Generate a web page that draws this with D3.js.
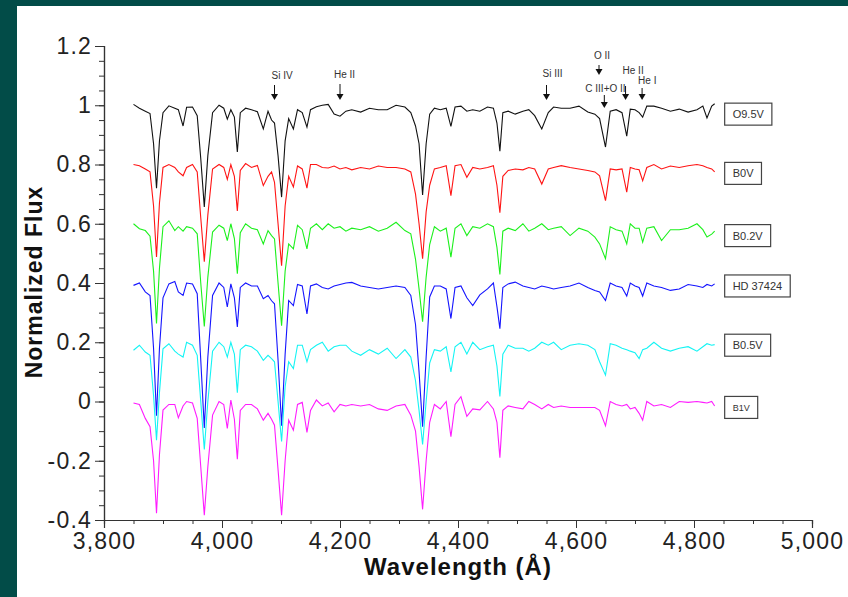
<!DOCTYPE html>
<html lang="en">
<head>
<meta charset="utf-8">
<script src="https://d3js.org/d3.v7.min.js"></script>
<title>spectra</title>
<style>
    body {margin: 0; background: #024c48;}
    svg {display: block;}
    text {font-family: "Liberation Sans", Arial, sans-serif;}
    .tick text {font-size: 23px; fill: #222; letter-spacing: 1.2px;}
    .axis path, .axis line {stroke: #333;}
    .title {font-weight: bold; fill: #111; letter-spacing: 1px;}
    .note {font-size: 10px; fill: #333;}
    .spec {fill: none; stroke-width: 1.1;}
</style>
</head>
<body>
<svg width="848" height="597"></svg>
<script>
    // wavelength grid shared by all spectra (Angstrom)
    var waves = [3850, 3860, 3870, 3878, 3884, 3889, 3894, 3900, 3910, 3920,
        3926, 3934, 3940, 3950, 3958, 3964, 3970, 3976, 3984, 3995,
        4003, 4009, 4015, 4021, 4026, 4031, 4040, 4050, 4060, 4070,
        4078, 4084, 4089, 4095, 4101, 4107, 4113, 4121, 4128, 4136,
        4144, 4150, 4160, 4170, 4180, 4190, 4200, 4210, 4220, 4235,
        4250, 4265, 4280, 4295, 4310, 4320, 4328, 4334, 4340, 4346,
        4352, 4360, 4370, 4380, 4388, 4395, 4405, 4415, 4425, 4437,
        4450, 4460, 4466, 4471, 4476, 4485, 4497, 4510, 4520, 4530,
        4542, 4553, 4562, 4575, 4590, 4605, 4620, 4632, 4640, 4650,
        4658, 4668, 4678, 4686, 4692, 4700, 4707, 4713, 4720, 4732,
        4745, 4760, 4775, 4790, 4805, 4815, 4822, 4830, 4835];

    // normalized flux of each star, before the vertical shift
    var o95v = [1.003, 0.99, 0.98, 0.972, 0.87, 0.72, 0.88, 0.975, 0.998, 0.99,
        0.985, 0.93, 0.993, 0.994, 0.965, 0.82, 0.657, 0.83, 0.975, 1.0,
        0.99, 0.953, 0.985, 0.96, 0.842, 0.975, 0.99, 0.985, 0.978, 0.92,
        0.98, 0.95, 0.94, 0.83, 0.69, 0.88, 0.955, 0.92, 0.985, 0.975,
        0.926, 0.985, 0.995, 1.0, 1.003, 0.97, 0.963, 0.98, 0.985, 0.977,
        0.99, 0.985, 0.985, 1.0, 0.994, 0.975, 0.93, 0.87, 0.697, 0.87,
        0.97, 0.99, 0.985, 0.99, 0.929, 0.994, 0.997, 0.98, 0.985, 0.98,
        0.994, 0.99, 0.94, 0.845, 0.975, 0.98, 0.97, 0.98, 0.985, 0.965,
        0.92, 0.975, 0.994, 0.99, 0.99, 0.997, 0.977, 0.97, 0.955, 0.859,
        0.98, 0.985, 0.975, 0.896, 0.987, 0.985, 0.975, 0.96, 0.997, 0.997,
        0.99, 0.98, 0.987, 0.977, 0.985, 0.997, 0.957, 0.997, 1.005];
    var b0v = [1.0, 0.996, 0.985, 0.975, 0.86, 0.688, 0.87, 0.99, 1.0, 0.99,
        0.975, 0.962, 0.99, 1.0, 0.975, 0.82, 0.672, 0.83, 0.985, 1.0,
        0.99, 0.95, 1.0, 0.96, 0.843, 0.98, 1.003, 0.99, 0.997, 0.929,
        0.96, 0.975, 0.94, 0.80, 0.658, 0.86, 0.96, 0.924, 0.995, 0.985,
        0.92, 1.0, 1.0, 0.99, 0.988, 0.995, 0.985, 0.99, 0.982, 0.99,
        0.985, 0.995, 0.99, 0.99, 0.985, 0.975, 0.90, 0.80, 0.682, 0.84,
        0.93, 0.985, 0.99, 0.996, 0.895, 0.996, 1.0, 0.957, 0.99, 0.985,
        0.99, 0.996, 0.93, 0.837, 0.96, 0.98, 0.985, 0.982, 0.99, 0.985,
        0.934, 0.985, 0.99, 0.996, 0.99, 0.985, 0.98, 0.975, 0.962, 0.878,
        0.985, 0.982, 0.985, 0.907, 0.99, 0.985, 0.982, 0.945, 0.99, 1.0,
        0.985, 0.995, 0.99, 0.996, 1.0, 0.996, 0.99, 0.985, 0.975];
    var b02v = [1.0, 0.983, 0.977, 0.958, 0.84, 0.663, 0.85, 0.99, 1.01, 0.977,
        0.99, 0.975, 0.99, 0.985, 0.966, 0.80, 0.653, 0.82, 0.972, 0.995,
        0.985, 0.943, 1.0, 0.95, 0.831, 0.97, 1.0, 0.985, 0.98, 0.932,
        0.977, 0.96, 0.949, 0.80, 0.656, 0.84, 0.932, 0.915, 0.995, 0.98,
        0.915, 0.985, 1.0, 0.98, 1.0, 0.985, 0.99, 0.975, 0.985, 0.98,
        0.99, 0.975, 0.985, 1.005, 0.977, 0.966, 0.88, 0.78, 0.669, 0.82,
        0.93, 0.99, 0.975, 0.985, 0.887, 0.985, 1.0, 0.96, 0.99, 0.985,
        1.0, 0.99, 0.92, 0.829, 0.975, 0.985, 0.977, 1.0, 0.975, 0.985,
        1.0, 0.98, 0.985, 0.99, 0.96, 0.985, 0.975, 0.955, 0.932, 0.882,
        0.99, 0.98, 0.975, 0.932, 1.0, 0.985, 0.985, 0.938, 0.985, 0.99,
        0.943, 0.98, 0.98, 0.985, 1.0, 0.98, 0.955, 0.965, 0.975];
    var hd37424 = [0.992, 1.0, 0.97, 0.958, 0.78, 0.552, 0.78, 0.95, 0.997, 1.005,
        0.97, 0.958, 1.0, 0.997, 0.964, 0.74, 0.511, 0.75, 0.958, 1.0,
        0.985, 0.919, 0.997, 0.95, 0.852, 0.985, 1.0, 0.99, 0.99, 0.947,
        0.958, 0.94, 0.93, 0.74, 0.518, 0.76, 0.941, 0.924, 0.995, 0.99,
        0.896, 0.99, 0.997, 0.985, 0.98, 0.99, 0.995, 1.0, 1.002, 0.99,
        0.985, 0.98, 0.985, 0.99, 0.985, 0.958, 0.86, 0.70, 0.515, 0.75,
        0.953, 0.99, 0.99, 0.98, 0.88, 0.985, 0.99, 0.95, 0.924, 0.96,
        0.98, 1.0, 0.92, 0.846, 0.985, 0.997, 1.003, 0.99, 0.985, 0.98,
        0.99, 0.985, 0.98, 0.985, 0.99, 1.0, 0.985, 0.975, 0.97, 0.941,
        1.0, 0.99, 0.985, 0.956, 1.0, 0.99, 0.985, 0.956, 1.0, 0.99,
        0.985, 0.975, 0.98, 0.995, 0.99, 0.985, 0.995, 0.99, 0.997];
    var b05v = [0.973, 0.99, 0.967, 0.956, 0.82, 0.669, 0.83, 0.978, 0.995, 0.97,
        0.96, 0.95, 1.0, 0.99, 0.956, 0.80, 0.638, 0.80, 0.97, 1.0,
        0.985, 0.95, 1.0, 0.96, 0.83, 0.975, 0.99, 0.985, 0.97, 0.939,
        0.956, 0.945, 0.934, 0.80, 0.665, 0.85, 0.934, 0.911, 0.99, 0.99,
        0.934, 0.975, 0.99, 1.0, 0.97, 0.985, 0.99, 0.99, 0.97, 0.956,
        0.975, 0.96, 0.98, 0.945, 0.975, 0.95, 0.87, 0.77, 0.655, 0.80,
        0.93, 0.975, 0.97, 0.985, 0.90, 0.985, 1.0, 0.96, 1.0, 0.975,
        0.985, 0.99, 0.92, 0.817, 0.96, 0.99, 0.98, 0.98, 0.97, 0.98,
        1.0, 0.99, 1.0, 0.975, 0.99, 0.995, 0.99, 0.975, 0.934, 0.889,
        0.995, 0.99, 0.98, 0.975, 0.97, 0.965, 0.945, 0.975, 0.98, 1.0,
        0.98, 0.97, 0.98, 0.985, 0.97, 0.985, 0.995, 0.99, 0.992];
    var b1v = [0.995, 0.99, 0.943, 0.915, 0.80, 0.623, 0.82, 0.971, 0.99, 0.99,
        0.945, 0.985, 1.0, 0.995, 0.943, 0.78, 0.616, 0.78, 0.954, 1.0,
        0.99, 0.909, 1.005, 0.94, 0.805, 0.97, 0.99, 0.99, 0.975, 0.937,
        0.96, 0.94, 0.92, 0.77, 0.616, 0.80, 0.937, 0.903, 0.99, 0.997,
        0.896, 0.97, 1.005, 0.985, 0.995, 0.965, 0.99, 0.985, 0.99, 0.985,
        0.99, 0.975, 0.97, 0.985, 0.99, 0.954, 0.90, 0.78, 0.636, 0.80,
        0.93, 0.99, 0.975, 1.0, 0.881, 0.99, 1.016, 0.95, 0.975, 0.972,
        1.0, 0.975, 0.93, 0.81, 0.97, 0.985, 0.98, 0.975, 1.0, 0.99,
        0.975, 0.99, 0.98, 0.985, 0.98, 0.98, 0.98, 0.98, 0.97, 0.918,
        1.0, 0.99, 0.985, 0.99, 0.975, 0.98, 0.96, 0.937, 1.0, 0.985,
        0.99, 0.98, 1.0, 0.997, 1.0, 0.997, 0.995, 1.0, 0.985];

    var starNames = ['O9.5V', 'B0V', 'B0.2V', 'HD 37424', 'B0.5V', 'B1V'];
    var starFlux = [o95v, b0v, b02v, hd37424, b05v, b1v];
    var shifts = [0, -0.2, -0.4, -0.6, -0.8, -1.0];
    var starColors = ['#111111', '#ff1414', '#1cf01c', '#1414ff', '#14f4f4', '#ff1cff'];
    var labelLevel = [0.97, 0.77, 0.56, 0.39, 0.19, -0.02];

    // identified lines marked with arrows
    var ionNames = ['Si IV', 'He II', 'Si III', 'O II', 'C III+O II', 'He II', 'He I'];
    var ionWaves = [4089, 4200, 4550, 4639, 4648, 4684, 4712];

    var xTicks = d3.range(3800, 5001, 200);
    var xMinor = d3.range(3800, 5001, 50);
    var yTicks = [-0.4, -0.2, 0, 0.2, 0.4, 0.6, 0.8, 1.0, 1.2];
    var yMinor = d3.range(-40, 121, 5).map(d => d / 100);

    var svg = d3.select('svg');
    svg.append('rect').attr('width', 848).attr('height', 597).attr('fill', '#024c48');
    svg.append('rect').attr('x', 17).attr('y', 6).attr('width', 831).attr('height', 591).attr('fill', '#fff');

    var x = d3.scaleLinear().domain([3800, 5000]).range([104, 812]);
    var y = d3.scaleLinear().domain([-0.4, 1.2]).range([520, 46]);

    // minor ticks first, majors with labels on top
    svg.append('g').attr('class', 'axis').attr('transform', 'translate(0,520)')
        .call(d3.axisBottom(x).tickValues(xMinor).tickSize(4).tickFormat(''));
    svg.append('g').attr('class', 'axis').attr('transform', 'translate(0,520)')
        .call(d3.axisBottom(x).tickValues(xTicks).tickSize(8).tickPadding(5)
            .tickFormat(d3.format(',')));
    svg.append('g').attr('class', 'axis').attr('transform', 'translate(104,0)')
        .call(d3.axisLeft(y).tickValues(yMinor).tickSize(5).tickFormat(''));
    svg.append('g').attr('class', 'axis').attr('transform', 'translate(104,0)')
        .call(d3.axisLeft(y).tickValues(yTicks).tickSize(9).tickPadding(3)
            .tickFormat(d => String(+d.toFixed(1))));
    svg.selectAll('.axis path').attr('stroke-width', 1.2);

    svg.append('text').attr('class', 'title')
        .attr('transform', 'translate(42,282) rotate(-90)')
        .attr('text-anchor', 'middle').style('font-size', '23px')
        .text('Normalized Flux');
    svg.append('text').attr('class', 'title')
        .attr('x', 458).attr('y', 575)
        .attr('text-anchor', 'middle').style('font-size', '24px')
        .text('Wavelength (Å)');

    // spectra
    var line = d3.line().x((d, i) => x(waves[i])).y(d => y(d));
    starFlux.forEach(function (flux, k) {
        svg.append('path').attr('class', 'spec')
            .attr('stroke', starColors[k])
            .attr('d', line(flux.map(f => f + shifts[k])));
    });

    // star name boxes
    var boxes = svg.selectAll('g.lab').data(starNames).enter().append('g')
        .attr('class', 'lab')
        .attr('transform', (d, i) => 'translate(' + x(4852) + ',' + y(labelLevel[i]) + ')');
    boxes.append('text').attr('y', 4)
        .style('font-size', (d, i) => i == 5 ? '9px' : '11px').style('fill', '#333')
        .text(d => d);
    boxes.each(function () {
        var g = d3.select(this);
        var t = g.select('text');
        var w = t.node().getComputedTextLength();
        t.attr('x', 8);
        g.insert('rect', 'text').attr('x', 0).attr('y', -11)
            .attr('width', w + 16).attr('height', 22)
            .attr('fill', '#fff').attr('stroke', '#444').attr('stroke-width', 1.2);
    });

    // arrows: text baseline, arrow top, arrow tip (pixels), text shift
    var arrowLayout = [[79, 85, 100, -3], [78, 84, 100, -6], [77, 85, 100, -4],
        [59, 65, 75, -5], [92, 95, 108, -19], [74, 86, 100, -3], [84, 88, 100, -4]];
    ionNames.forEach(function (name, i) {
        var ax = x(ionWaves[i]);
        var L = arrowLayout[i];
        svg.append('text').attr('class', 'note').attr('x', ax + L[3]).attr('y', L[0]).text(name);
        svg.append('line').attr('x1', ax).attr('x2', ax).attr('y1', L[1]).attr('y2', L[2] - 4)
            .attr('stroke', '#111').attr('stroke-width', 1);
        svg.append('path').attr('fill', '#111')
            .attr('d', 'M' + (ax - 3.5) + ',' + (L[2] - 6) + 'L' + (ax + 3.5) + ',' + (L[2] - 6) + 'L' + ax + ',' + L[2] + 'Z');
    });
</script>
</body>
</html>
